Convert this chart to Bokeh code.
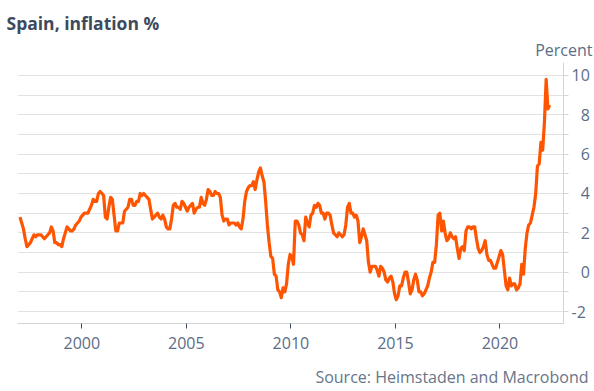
from bokeh.plotting import figure
from bokeh.models import Range1d, FixedTicker, Title
from bokeh.embed import file_html
from bokeh.resources import INLINE

# Spain, inflation % (monthly, year-on-year)
y1997 = [2.8, 2.5, 2.2, 1.7, 1.3, 1.4, 1.5, 1.7, 1.9, 1.8, 1.9, 1.9]
y1998 = [1.9, 1.8, 1.7, 1.8, 1.9, 2.0, 2.3, 2.1, 1.5, 1.5, 1.4, 1.4]
y1999 = [1.3, 1.7, 2.0, 2.3, 2.2, 2.1, 2.1, 2.2, 2.4, 2.5, 2.6, 2.8]
y2000 = [2.9, 3.0, 3.0, 3.0, 3.2, 3.4, 3.7, 3.6, 3.6, 4.0, 4.1, 4.0]
y2001 = [3.9, 2.8, 2.7, 3.3, 3.8, 3.7, 2.9, 2.1, 2.1, 2.5, 2.5, 2.5]
y2002 = [3.1, 3.2, 3.3, 3.7, 3.7, 3.4, 3.4, 3.6, 3.6, 4.0, 3.9, 4.0]
y2003 = [3.9, 3.8, 3.7, 3.2, 2.7, 2.8, 2.9, 3.0, 2.8, 2.7, 2.9, 2.7]
y2004 = [2.3, 2.2, 2.2, 2.7, 3.4, 3.5, 3.3, 3.3, 3.2, 3.6, 3.5, 3.3]
y2005 = [3.1, 3.3, 3.4, 3.5, 3.0, 3.2, 3.3, 3.3, 3.8, 3.5, 3.4, 3.7]
y2006 = [4.2, 4.1, 3.9, 3.9, 4.1, 4.0, 4.0, 3.8, 2.9, 2.6, 2.7, 2.7]
y2007 = [2.4, 2.5, 2.5, 2.5, 2.4, 2.5, 2.3, 2.2, 2.7, 3.6, 4.1, 4.3]
y2008 = [4.4, 4.4, 4.6, 4.2, 4.7, 5.1, 5.3, 4.9, 4.6, 3.6, 2.4, 1.5]
y2009 = [0.8, 0.7, -0.1, -0.2, -0.9, -1.0, -1.3, -0.8, -1.0, -0.6, 0.4, 0.9]
y2010 = [0.8, 0.4, 2.6, 2.6, 2.4, 2.0, 1.9, 1.6, 2.8, 2.5, 2.3, 2.9]
y2011 = [3.0, 3.4, 3.3, 3.5, 3.4, 3.0, 3.0, 2.7, 3.0, 3.0, 2.9, 2.4]
y2012 = [2.0, 1.9, 1.8, 2.0, 1.9, 1.8, 1.9, 2.4, 3.3, 3.5, 3.0, 3.0]
y2013 = [2.8, 2.9, 2.6, 1.5, 1.8, 2.2, 1.9, 1.6, 0.5, 0.0, 0.3, 0.3]
y2014 = [0.3, 0.1, -0.2, 0.3, 0.2, 0.0, -0.4, -0.5, -0.3, -0.2, -0.5, -1.1]
y2015 = [-1.4, -1.2, -0.7, -0.7, -0.3, 0.0, 0.0, -0.5, -1.1, -0.9, -0.4, -0.1]
y2016 = [-0.4, -1.0, -1.0, -1.2, -1.1, -0.9, -0.7, -0.3, 0.0, 0.5, 0.5, 1.4]
y2017 = [2.9, 3.0, 2.1, 2.6, 2.0, 1.6, 1.7, 2.0, 1.8, 1.7, 1.8, 1.2]
y2018 = [0.7, 1.2, 1.3, 1.1, 2.1, 2.3, 2.3, 2.2, 2.3, 2.3, 1.7, 1.2]
y2019 = [1.0, 1.1, 1.3, 1.6, 0.9, 0.6, 0.6, 0.4, 0.2, 0.2, 0.5, 0.8]
y2020 = [1.1, 0.9, 0.1, -0.7, -0.9, -0.3, -0.7, -0.6, -0.6, -0.9, -0.8, -0.6]
y2021 = [0.4, -0.1, 1.2, 2.0, 2.4, 2.5, 2.9, 3.3, 4.0, 5.4, 5.5, 6.6]
y2022 = [6.2, 7.6, 9.8, 8.3, 8.5]

start_year = 1997
x_ticks = [2000, 2005, 2010, 2015, 2020]
x_tick_labels = ["2000", "2005", "2010", "2015", "2020"]
y_ticks = [-2, 0, 2, 4, 6, 8, 10]
y_tick_labels = ["-2", "0", "2", "4", "6", "8", "10"]
y_minor_ticks = [-1, 1, 3, 5, 7, 9]

title_text = "Spain, inflation %"
unit_text = "Percent"
source_text = "Source: Heimstaden and Macrobond"

values = (y1997 + y1998 + y1999 + y2000 + y2001 + y2002 + y2003 + y2004 + y2005
          + y2006 + y2007 + y2008 + y2009 + y2010 + y2011 + y2012 + y2013 + y2014
          + y2015 + y2016 + y2017 + y2018 + y2019 + y2020 + y2021 + y2022)
dates = [start_year + (i + 0.5) / 12.0 for i in range(len(values))]

FONT = "Open Sans"
LABEL_COLOR = "#5b6d87"
AXIS_GRAY = "#d4d4d4"
GRID_GRAY = "#e2e2e2"

x0, x1 = 1996.923, 2023.038
y0, y1 = -2.61, 10.66

p = figure(width=594, height=391, output_backend="svg", toolbar_location=None,
           x_range=Range1d(x0, x1), y_range=Range1d(y0, y1),
           y_axis_location="right",
           min_border_left=17, min_border_right=31, min_border_top=62, min_border_bottom=68)
p.outline_line_color = None
p.background_fill_color = "white"
p.border_fill_color = "white"

# title (outermost, above)
p.title.text = title_text
p.title.align = "left"
p.title.offset = -11
p.title.standoff = 2
p.title.text_font = FONT
p.title.text_font_size = "17.5px"
p.title.text_font_style = "bold"
p.title.text_color = "#3d4a5c"

# unit label, just above the plot on the right
p.add_layout(Title(text=unit_text, align="right", offset=-29, standoff=3,
                   text_font=FONT, text_font_size="16px", text_font_style="normal",
                   text_color=LABEL_COLOR), "above")

# x axis
xa = p.xaxis[0]
xa.axis_label = None
xa.ticker = FixedTicker(ticks=x_ticks)
xa.major_label_overrides = {t: l for t, l in zip(x_ticks, x_tick_labels)}
xa.axis_line_color = AXIS_GRAY
xa.major_tick_line_color = "#3d4a5c"
xa.major_tick_out = 5
xa.major_tick_in = 0
xa.minor_tick_line_color = None
xa.major_label_text_font = FONT
xa.major_label_text_font_size = "16px"
xa.major_label_text_color = LABEL_COLOR
xa.major_label_standoff = 8

# y axis (right); one-digit labels padded with a figure space so the
# column reads right-aligned as in the reference
ya = p.yaxis[0]
ya.axis_label = None
ya.ticker = FixedTicker(ticks=y_ticks, minor_ticks=y_minor_ticks)
ya.major_label_overrides = {
    t: (l if len(l) > 1 else "\u2007" + l) for t, l in zip(y_ticks, y_tick_labels)
}
ya.axis_line_color = AXIS_GRAY
ya.major_tick_line_color = AXIS_GRAY
ya.minor_tick_line_color = AXIS_GRAY
ya.major_tick_out = 5
ya.major_tick_in = 0
ya.minor_tick_out = 5
ya.minor_tick_in = 0
ya.major_label_text_font = FONT
ya.major_label_text_font_size = "16px"
ya.major_label_text_color = LABEL_COLOR
ya.major_label_standoff = 3

p.xgrid.grid_line_color = None
p.ygrid.ticker = FixedTicker(ticks=y_ticks, minor_ticks=y_minor_ticks)
p.ygrid.grid_line_color = GRID_GRAY
p.ygrid.minor_grid_line_color = GRID_GRAY

p.line(dates, values, line_color="#ff5500", line_width=3.2, line_join="round")

# spacer, then the source note below the x axis
p.add_layout(Title(text=" ", text_font_size="1px", standoff=9), "below")
p.add_layout(Title(text=source_text, align="right", offset=-25, standoff=0,
                   text_font=FONT, text_font_size="16px", text_font_style="normal",
                   text_color="#66758a"), "below")

open("out.html", "w").write(file_html(p, INLINE))
